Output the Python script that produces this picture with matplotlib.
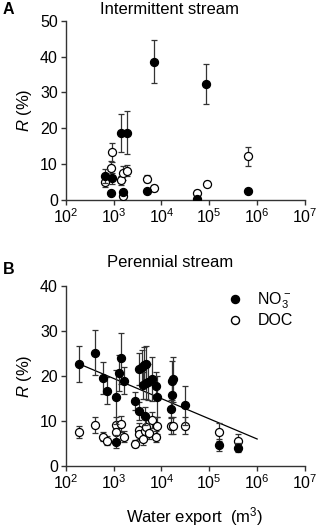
import numpy as np
import matplotlib
matplotlib.use("Agg")
import matplotlib.pyplot as plt
from matplotlib.lines import Line2D

plt.rcParams['font.family'] = ['Liberation Sans', 'DejaVu Sans']
plt.rcParams['mathtext.fontset'] = 'custom'
plt.rcParams['mathtext.rm'] = 'Liberation Sans'
plt.rcParams['mathtext.it'] = 'Liberation Sans:italic'

# Panel A: intermittent stream
a_no3_x = [7100, 85000, 1400, 1950, 670, 940, 900, 1600, 5100, 55000, 650000]
a_no3_y = [38.5, 32.3, 18.8, 18.8, 6.7, 6.0, 2.0, 2.1, 2.6, 0.4, 2.5]
a_no3_e = [6.0, 5.6, 5.3, 6.0, 2.0, 1.5, 0.5, 0.5, 0.5, 0.3, 0.5]

a_doc_x = [940, 900, 650, 1400, 1600, 1950, 1600, 5100, 7100, 55000, 89000, 650000]
a_doc_y = [13.3, 8.9, 5.1, 5.5, 7.6, 8.2, 1.2, 5.9, 3.4, 1.9, 4.6, 12.2]
a_doc_e = [2.7, 2.0, 1.5, 1.2, 2.0, 1.5, 0.5, 1.0, 0.8, 0.8, 0.8, 2.6]

# Panel B: perennial stream
b_no3_x = [190, 410, 590, 740, 1150, 1280, 1410, 1650, 1150, 2850, 3350, 4600,
           3450, 4000, 4400, 4800, 4150, 4700, 5300, 6300, 7700, 7900,
           15600, 16400, 16600, 17500, 31600, 160000, 400000]
b_no3_y = [22.7, 25.2, 19.6, 16.7, 15.4, 20.7, 23.9, 18.9, 5.4, 14.4, 12.3, 11.1,
           21.6, 22.0, 22.5, 22.7, 18.0, 18.4, 18.7, 19.3, 17.8, 15.4,
           12.7, 15.8, 19.0, 19.3, 13.5, 4.7, 4.1]
b_no3_e = [4.0, 5.0, 3.6, 3.0, 6.0, 4.0, 5.7, 3.0, 1.5, 2.0, 2.0, 2.0,
           3.6, 3.8, 4.0, 4.0, 3.0, 3.5, 4.0, 4.9, 3.0, 4.5,
           2.0, 3.0, 4.3, 5.0, 4.3, 1.3, 1.0]

b_doc_x = [190, 410, 590, 740, 1150, 1150, 1410, 1650, 2850, 3350, 3350, 4150,
           4600, 4800, 5400, 6300, 7700, 7900, 15600, 17500, 31600, 160000, 400000]
b_doc_y = [7.6, 9.2, 6.5, 5.6, 9.2, 7.6, 9.3, 6.5, 5.0, 8.1, 7.1, 5.9,
           7.7, 8.7, 7.3, 10.2, 6.5, 9.0, 9.0, 9.0, 9.0, 7.6, 5.6]
b_doc_e = [1.4, 1.8, 1.0, 1.0, 1.8, 1.5, 1.8, 1.2, 0.8, 1.5, 1.2, 1.2,
           1.5, 1.5, 1.2, 1.8, 1.2, 1.8, 1.8, 1.8, 1.8, 2.0, 1.5]

# regression line (panel B)
fit_x = [190, 1e6]
fit_y = [22.7, 6.0]

xticks = [1e2, 1e3, 1e4, 1e5, 1e6, 1e7]
xticklabels = ['10$^2$', '10$^3$', '10$^4$', '10$^5$', '10$^6$', '10$^7$']
legend_labels = ['NO$_3^-$', 'DOC']

W, H = 319, 529
fig = plt.figure(figsize=(W / 100, H / 100), dpi=100)

left = 65.7 / W
width = (305 - 65.7) / W
axA = fig.add_axes([left, 1 - 200 / H, width, (200 - 20.7) / H])
axB = fig.add_axes([left, 1 - 466 / H, width, (466 - 286) / H])

spine_c = '#333333'
ms = 5.8
tick_fs = 11.5
lab_fs = 12

def draw(ax, nx, ny, ne, dx, dy, de):
    ax.errorbar(dx, dy, yerr=de, fmt='o', ms=ms, mfc='white', mec='black', mew=0.9,
                ecolor='#333333', elinewidth=0.9, capsize=2, capthick=0.9, zorder=3)
    ax.errorbar(nx, ny, yerr=ne, fmt='o', ms=ms, mfc='black', mec='black', mew=0.9,
                ecolor='#333333', elinewidth=0.9, capsize=2, capthick=0.9, zorder=4)

def style(ax, ymax, yticks):
    ax.set_xscale('log')
    ax.set_xlim(1e2, 1e7)
    ax.set_ylim(0, ymax)
    ax.set_xticks(xticks)
    ax.set_xticklabels(xticklabels)
    ax.minorticks_off()
    ax.set_yticks(yticks)
    for s in ['top', 'right']:
        ax.spines[s].set_visible(False)
    for s in ['left', 'bottom']:
        ax.spines[s].set_color(spine_c)
        ax.spines[s].set_linewidth(1.0)
    ax.tick_params(direction='out', length=3.6, width=1.0, color=spine_c,
                   labelsize=tick_fs, pad=2)
    ax.set_ylabel('$\\it{R}$ (%)', fontsize=lab_fs, labelpad=4)
    ax.set_clip_on(False)

draw(axA, a_no3_x, a_no3_y, a_no3_e, a_doc_x, a_doc_y, a_doc_e)
style(axA, 50, [0, 10, 20, 30, 40, 50])

draw(axB, b_no3_x, b_no3_y, b_no3_e, b_doc_x, b_doc_y, b_doc_e)
axB.plot(fit_x, fit_y, color='black', lw=0.9, zorder=2)
style(axB, 40, [0, 10, 20, 30, 40])
axB.set_xlabel('Water export  (m$^3$)', fontsize=lab_fs)
axB.xaxis.set_label_coords(0.54, -0.215)

handles = [Line2D([], [], marker='o', ls='none', ms=ms, mfc='black', mec='black'),
           Line2D([], [], marker='o', ls='none', ms=ms, mfc='white', mec='black')]
axB.legend(handles, legend_labels, loc='upper left', frameon=False, fontsize=tick_fs,
           handlelength=1.0, handletextpad=0.9, labelspacing=0.15, borderpad=0,
           borderaxespad=0, bbox_to_anchor=(0.674, 0.975))

fig.text(170 / W, 1 - 10 / H, 'Intermittent stream', ha='center', va='center', fontsize=lab_fs)
fig.text(170 / W, 1 - 262 / H, 'Perennial stream', ha='center', va='center', fontsize=lab_fs)
fig.text(3 / W, 1 - 10 / H, 'A', ha='left', va='center', fontsize=11.5, fontweight='bold')
fig.text(3 / W, 1 - 270 / H, 'B', ha='left', va='center', fontsize=11.5, fontweight='bold')

fig.savefig('out.png', dpi=100)
